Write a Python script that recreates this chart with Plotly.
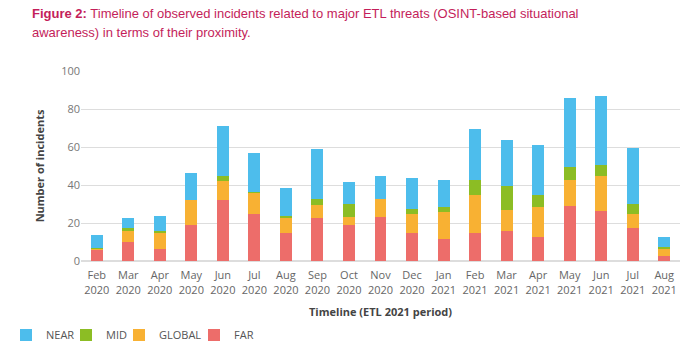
import plotly.graph_objects as go

months = ["Feb<br>2020", "Mar<br>2020", "Apr<br>2020", "May<br>2020", "Jun<br>2020", "Jul<br>2020",
          "Aug<br>2020", "Sep<br>2020", "Oct<br>2020", "Nov<br>2020", "Dec<br>2020", "Jan<br>2021",
          "Feb<br>2021", "Mar<br>2021", "Apr<br>2021", "May<br>2021", "Jun<br>2021", "Jul<br>2021",
          "Aug<br>2021"]

far = [6, 10, 6.5, 19, 32, 25, 15, 22.5, 19, 23, 15, 11.5, 15, 16, 12.5, 29, 26.5, 17.5, 2.5]
glob = [0.5, 6, 8, 13, 10, 11, 8, 7, 4, 9.5, 10, 14.5, 20, 11, 16, 13.5, 18, 7.5, 4]
mid = [0.5, 1.5, 1.5, 0, 2.5, 0.5, 0.5, 3, 7, 0, 2.5, 2.5, 7.5, 12.5, 6, 7, 6, 5, 1]
near = [6.5, 5, 7.5, 14.5, 26.5, 20.5, 15, 26.5, 11.5, 12, 16, 14, 27, 24, 26.5, 36.5, 36.5, 29.5, 5]

series = [("FAR", far, "#ed6d6a", 22), ("GLOBAL", glob, "#f8b133", 30),
          ("MID", mid, "#8cbd24", 8), ("NEAR", near, "#4dbdec", 15)]

W, H = 700, 349
L, R, T, B = 81, 20, 71, 88
PW, PH = W - L - R, H - T - B


def px_x(p):
    return (p - L) / PW


def px_y(p):
    return (H - B - p) / PH


fig = go.Figure()
for name, vals, col, lw in series:
    fig.add_trace(go.Bar(x=months, y=vals, name=name, legendwidth=lw,
                         marker=dict(color=col, line=dict(width=0))))

fig.update_layout(
    barmode="stack",
    bargap=0.62,
    width=W, height=H,
    margin=dict(l=L, r=R, t=T, b=B, autoexpand=False),
    paper_bgcolor="white", plot_bgcolor="white",
    font=dict(family="Open Sans", size=11, color="#666666"),
    legend=dict(orientation="h", traceorder="reversed",
                x=px_x(6), y=px_y(335), xanchor="left", yanchor="middle",
                font=dict(family="Open Sans", size=11, color="#555555")),
    showlegend=True,
)
fig.update_xaxes(showgrid=False, showline=False, ticks="outside", ticklen=4, tickcolor="rgba(0,0,0,0)",
                 tickfont=dict(size=11, color="#666666"),
                 title=dict(text="<b>Timeline (ETL 2021 period)</b>", standoff=12,
                            font=dict(size=11, color="#444444")))
fig.update_yaxes(range=[0, 100], dtick=20, showgrid=True, gridcolor="#dddddd", gridwidth=1,
                 zeroline=True, zerolinecolor="#dddddd", showline=False, ticks="",
                 tickfont=dict(size=11, color="#777777"),
                 title=dict(text="<b>Number of incidents</b>", standoff=14,
                            font=dict(size=11, color="#444444")))

fig.add_annotation(xref="paper", yref="paper", x=px_x(30), y=px_y(4), xanchor="left", yanchor="top",
                   showarrow=False, align="left",
                   text="<b>Figure 2:</b> Timeline of observed incidents related to major ETL threats (OSINT-based situational",
                   font=dict(family="Liberation Sans", size=13, color="#c41e5a"))
fig.add_annotation(xref="paper", yref="paper", x=px_x(30), y=px_y(23), xanchor="left", yanchor="top",
                   showarrow=False, align="left",
                   text="awareness) in terms of their proximity.",
                   font=dict(family="Liberation Sans", size=13, color="#c41e5a"))

fig.write_html("out.html")
